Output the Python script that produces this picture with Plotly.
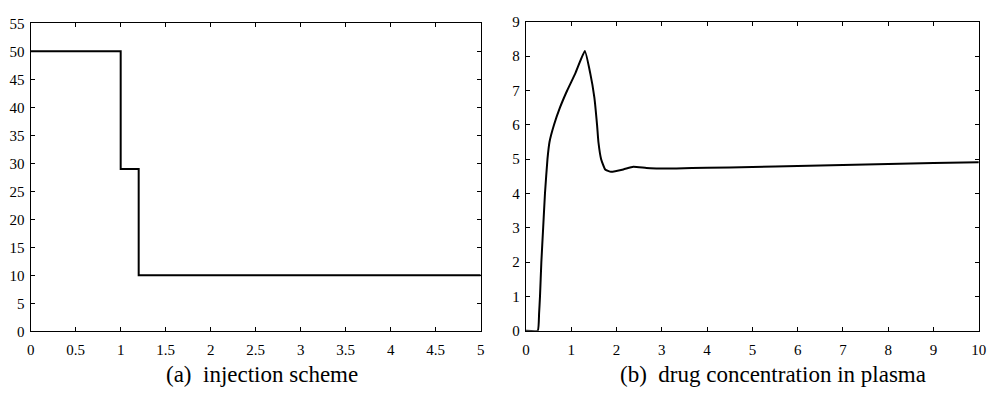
import plotly.graph_objects as go

# (a) injection scheme: dose rate, piecewise constant
inj_t = [0, 1.0, 1.2, 5.0]
inj_rate = [50, 29, 10, 10]

# (b) drug concentration in plasma
conc_t = [0, 0.26, 0.29, 0.31, 0.34, 0.38, 0.42, 0.475, 0.52, 0.62, 0.75, 0.91, 1.09,
          1.30, 1.42, 1.51, 1.57, 1.60, 1.66, 1.75, 1.88, 2.15, 2.37, 2.66, 2.88,
          3.32, 4, 5, 6, 7, 8, 9, 10]
conc_val = [0, 0, 0.5, 1, 2, 3, 4, 5, 5.5, 6, 6.5, 7, 7.5,
            8.15, 7.5, 6.8, 6, 5.5, 5, 4.7, 4.63, 4.7, 4.78, 4.74, 4.73,
            4.73, 4.75, 4.77, 4.80, 4.83, 4.86, 4.89, 4.91]

captions = ["(a)  injection scheme", "(b)  drug concentration in plasma"]

FONT = "Liberation Serif"

fig = go.Figure()
fig.add_trace(go.Scatter(x=inj_t, y=inj_rate, mode="lines", line_shape="hv",
                         line=dict(color="black", width=2),
                         xaxis="x", yaxis="y", showlegend=False))
fig.add_trace(go.Scatter(x=conc_t, y=conc_val, mode="lines", line_shape="spline",
                         line=dict(color="black", width=2, smoothing=0.4),
                         xaxis="x2", yaxis="y2", showlegend=False))

axis_common = dict(showline=True, linecolor="black", linewidth=1.2, mirror="ticks",
                   ticks="inside", ticklen=4, tickwidth=1, tickcolor="black",
                   showgrid=False, zeroline=False,
                   tickfont=dict(family=FONT, size=15, color="black"))

fig.update_layout(
    width=999, height=395,
    margin=dict(l=0, r=0, t=0, b=0),
    paper_bgcolor="white", plot_bgcolor="white",
    font=dict(family=FONT, color="black"),
    xaxis=dict(domain=[27 / 999, 482.5 / 999], range=[0, 5], dtick=0.5,
               anchor="y", ticklabelstandoff=5, **axis_common),
    yaxis=dict(domain=[(395 - 337) / 395, (395 - 16) / 395], range=[0, 55], dtick=5,
               anchor="x", ticklabelstandoff=2, **axis_common),
    xaxis2=dict(domain=[528.3 / 999, 986.7 / 999], range=[0, 10], dtick=1,
                anchor="y2", ticklabelstandoff=5, **axis_common),
    yaxis2=dict(domain=[(395 - 336.3) / 395, (395 - 14.5) / 395], range=[0, 9], dtick=1,
                anchor="x2", ticklabelstandoff=2, **axis_common),
)

fig.add_annotation(text=captions[0], x=261 / 999, y=1 - 382 / 395, xref="paper", yref="paper",
                   showarrow=False, xanchor="center", yanchor="middle",
                   font=dict(family=FONT, size=23, color="black"))
fig.add_annotation(text=captions[1], x=778 / 999, y=1 - 382 / 395, xref="paper", yref="paper",
                   showarrow=False, xanchor="center", yanchor="middle",
                   font=dict(family=FONT, size=23, color="black"))

fig.write_html("out.html")
